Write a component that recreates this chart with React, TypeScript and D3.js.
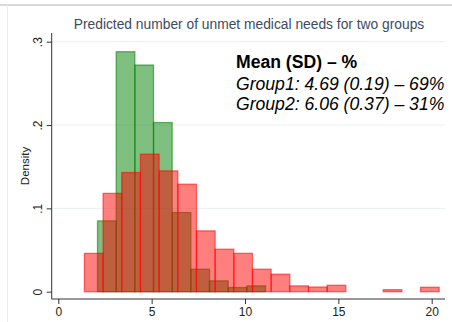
import * as d3 from 'd3';
import React, { useRef, useEffect } from 'react';

// bin left edges + densities
const binWidth = 1.0;
const group2Starts = [1.4, 2.4, 3.4, 4.4, 5.4, 6.4, 7.4, 8.4, 9.4, 10.4, 11.4, 12.4, 13.4, 14.4, 15.4, 16.4, 17.4, 18.4, 19.4];
const group2Density = [0.046, 0.118, 0.143, 0.165, 0.145, 0.129, 0.073, 0.051, 0.046, 0.027, 0.021, 0.007, 0.0056, 0.0077, 0, 0, 0.0024, 0, 0.0053];

const group1Starts = [2.1, 3.1, 4.1, 5.1, 6.1, 7.1, 8.1, 9.1, 10.1];
const group1Density = [0.085, 0.288, 0.272, 0.203, 0.095, 0.027, 0.013, 0.005, 0.007];

const xTicks = [0, 5, 10, 15, 20];
const yTicks = [0, 0.1, 0.2, 0.3];

const title = 'Predicted number of unmet medical needs for two groups';
const noteHead = 'Mean (SD) \u2013 %';
const noteLines = ['Group1: 4.69 (0.19) \u2013 69%', 'Group2: 6.06 (0.37) \u2013 31%'];

const width = 452;
const height = 322;
const font = '"Liberation Sans", Arial, sans-serif';

const App = () => {
  const gx = useRef<SVGGElement>(null);
  const gy = useRef<SVGGElement>(null);

  // plot area, matched to the stata layout
  const axisLeft = 51.7;
  const axisRight = 445;
  const axisBottom = 299;
  const axisTop = 33;

  const x = d3.scaleLinear([0, 20], [58.3, 431.7]);
  const y = d3.scaleLinear([0, 0.3], [291.7, 41.7]);

  useEffect(() => {
    const g = d3.select(gx.current);
    g.call(d3.axisBottom(x).tickValues(xTicks).tickSize(5).tickPadding(3));
    g.select('.domain').remove();
    g.selectAll('line').attr('stroke', '#333');
    g.selectAll('text').attr('font-family', font).attr('font-size', 12).attr('fill', '#222');
  }, []);

  useEffect(() => {
    const g = d3.select(gy.current);
    g.call(
      d3.axisLeft(y)
        .tickValues(yTicks)
        .tickSize(5)
        .tickFormat((d) => (+d === 0 ? '0' : d3.format('.1f')(+d).replace(/^0/, '')))
    );
    g.select('.domain').remove();
    g.selectAll('line').attr('stroke', '#333');
    g.selectAll('text')
      .attr('font-family', font)
      .attr('font-size', 12)
      .attr('fill', '#222')
      .attr('x', null)
      .attr('dy', null)
      .attr('text-anchor', 'middle')
      .attr('transform', 'translate(-10,0) rotate(-90)');
  }, []);

  const bars = (starts: number[], dens: number[], color: string) =>
    starts.map((s, i) =>
      dens[i] > 0 ? (
        <rect
          key={i}
          x={x(s)}
          y={y(dens[i])}
          width={x(s + binWidth) - x(s)}
          height={y(0) - y(dens[i])}
          fill={color}
          fillOpacity={0.5}
          stroke={color}
          strokeOpacity={0.55}
          strokeWidth={1.3}
        />
      ) : null
    );

  return (
    <svg width={width} height={height} style={{ position: 'fixed', left: 0, top: 0, background: '#fff' }}>
      <rect x={0} y={0} width={width} height={height} fill="#fff" />
      <line x1={0} x2={width} y1={5} y2={5} stroke="#b4b4b4" strokeWidth={1.2} />
      <line x1={7.5} x2={7.5} y1={5} y2={height} stroke="#e6eef0" strokeWidth={1} />

      <text x={249} y={29} textAnchor="middle" fontFamily={font} fontSize={13.8} fill="#3d4a5e">
        {title}
      </text>

      {/* grid */}
      {yTicks.slice(1).map((t) => (
        <line key={t} x1={axisLeft} x2={axisRight} y1={y(t)} y2={y(t)} stroke="#e9f0f2" strokeWidth={1} />
      ))}

      <g>{bars(group1Starts, group1Density, 'rgb(0,128,0)')}</g>
      <g>{bars(group2Starts, group2Density, 'rgb(255,0,0)')}</g>

      <line x1={axisLeft} x2={axisLeft} y1={axisTop} y2={axisBottom} stroke="#333" strokeWidth={1} />
      <line x1={axisLeft} x2={axisRight} y1={axisBottom} y2={axisBottom} stroke="#333" strokeWidth={1} />
      <g ref={gx} transform={`translate(0,${axisBottom})`} />
      <g ref={gy} transform={`translate(${axisLeft},0)`} />

      <text
        transform={`translate(29,166) rotate(-90)`}
        textAnchor="middle"
        fontFamily={font}
        fontSize={11.5}
        fill="#222"
      >
        Density
      </text>

      <text x={236} y={68} fontFamily={font} fontSize={17.6} fontWeight="bold" fill="#000">
        {noteHead}
      </text>
      {noteLines.map((l, i) => (
        <text key={i} x={236} y={90 + i * 20} fontFamily={font} fontSize={17.6} fontStyle="italic" fill="#000">
          {l}
        </text>
      ))}
    </svg>
  );
};

export default App;
